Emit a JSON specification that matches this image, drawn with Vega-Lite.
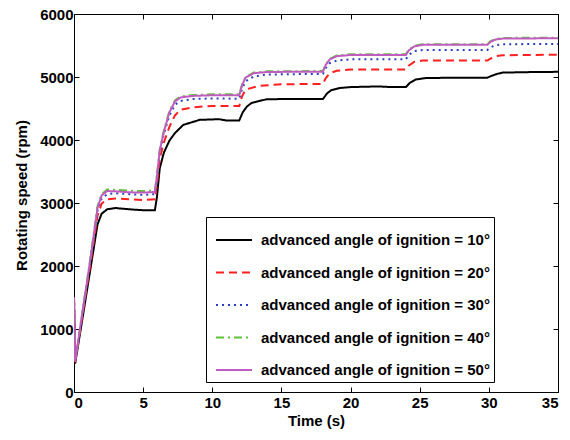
{
  "$schema": "https://vega.github.io/schema/vega-lite/v6.json",
  "width": 484,
  "height": 378,
  "autosize": {"type": "none"},
  "padding": {"left": 74, "top": 14, "right": 12, "bottom": 48},
  "background": "white",
  "config": {
    "font": "Liberation Sans",
    "view": {"stroke": "black", "strokeWidth": 1},
    "axis": {
      "grid": false,
      "domainColor": "black",
      "domainWidth": 1,
      "tickColor": "black",
      "tickSize": -5,
      "labelFont": "Liberation Sans",
      "labelFontWeight": "bold",
      "labelFontSize": 15,
      "labelColor": "black",
      "titleFont": "Liberation Sans",
      "titleFontWeight": "bold",
      "titleFontSize": 15,
      "titleColor": "black"
    }
  },
  "data": {"values": [
    {"series":"10","time":0,"speed":1500},{"series":"10","time":0.08,"speed":450},{"series":"10","time":0.6,"speed":1150},{"series":"10","time":1.2,"speed":1970},{"series":"10","time":1.7,"speed":2660},{"series":"10","time":2.0,"speed":2830},{"series":"10","time":2.4,"speed":2900},{"series":"10","time":3.0,"speed":2920},{"series":"10","time":4.0,"speed":2900},{"series":"10","time":5.0,"speed":2885},{"series":"10","time":5.85,"speed":2885},{"series":"10","time":6.0,"speed":3100},{"series":"10","time":6.2,"speed":3550},{"series":"10","time":6.5,"speed":3800},{"series":"10","time":6.9,"speed":3990},{"series":"10","time":7.3,"speed":4110},{"series":"10","time":7.9,"speed":4240},{"series":"10","time":9.1,"speed":4320},{"series":"10","time":10.5,"speed":4330},{"series":"10","time":11.0,"speed":4310},{"series":"10","time":11.95,"speed":4310},{"series":"10","time":12.2,"speed":4440},{"series":"10","time":12.5,"speed":4530},{"series":"10","time":12.85,"speed":4590},{"series":"10","time":13.9,"speed":4645},{"series":"10","time":15,"speed":4650},{"series":"10","time":18.0,"speed":4650},{"series":"10","time":18.3,"speed":4740},{"series":"10","time":18.6,"speed":4790},{"series":"10","time":19.2,"speed":4825},{"series":"10","time":20,"speed":4840},{"series":"10","time":22,"speed":4850},{"series":"10","time":23,"speed":4840},{"series":"10","time":24.0,"speed":4840},{"series":"10","time":24.3,"speed":4910},{"series":"10","time":24.7,"speed":4960},{"series":"10","time":25.5,"speed":4985},{"series":"10","time":29.9,"speed":4990},{"series":"10","time":30.1,"speed":5010},{"series":"10","time":30.6,"speed":5050},{"series":"10","time":31,"speed":5070},{"series":"10","time":33,"speed":5078},{"series":"10","time":35,"speed":5082},
    {"series":"20","time":0,"speed":1500},{"series":"20","time":0.08,"speed":470},{"series":"20","time":0.6,"speed":1200},{"series":"20","time":1.2,"speed":2050},{"series":"20","time":1.7,"speed":2800},{"series":"20","time":2.0,"speed":2990},{"series":"20","time":2.4,"speed":3060},{"series":"20","time":3.0,"speed":3070},{"series":"20","time":4.0,"speed":3060},{"series":"20","time":5.0,"speed":3045},{"series":"20","time":5.85,"speed":3060},{"series":"20","time":6.0,"speed":3300},{"series":"20","time":6.2,"speed":3700},{"series":"20","time":6.5,"speed":3960},{"series":"20","time":6.9,"speed":4210},{"series":"20","time":7.3,"speed":4390},{"series":"20","time":7.7,"speed":4480},{"series":"20","time":8.6,"speed":4520},{"series":"20","time":10,"speed":4540},{"series":"20","time":11.95,"speed":4540},{"series":"20","time":12.15,"speed":4690},{"series":"20","time":12.4,"speed":4800},{"series":"20","time":13.4,"speed":4860},{"series":"20","time":15,"speed":4885},{"series":"20","time":18.0,"speed":4890},{"series":"20","time":18.2,"speed":4980},{"series":"20","time":18.5,"speed":5060},{"series":"20","time":19.0,"speed":5100},{"series":"20","time":20,"speed":5120},{"series":"20","time":24.0,"speed":5120},{"series":"20","time":24.2,"speed":5180},{"series":"20","time":24.6,"speed":5240},{"series":"20","time":25.2,"speed":5260},{"series":"20","time":29.9,"speed":5260},{"series":"20","time":30.1,"speed":5290},{"series":"20","time":30.5,"speed":5330},{"series":"20","time":31,"speed":5345},{"series":"20","time":35,"speed":5355},
    {"series":"30","time":0,"speed":1500},{"series":"30","time":0.08,"speed":480},{"series":"30","time":0.6,"speed":1230},{"series":"30","time":1.2,"speed":2100},{"series":"30","time":1.7,"speed":2880},{"series":"30","time":2.0,"speed":3070},{"series":"30","time":2.4,"speed":3140},{"series":"30","time":3.0,"speed":3155},{"series":"30","time":4.0,"speed":3140},{"series":"30","time":5.0,"speed":3130},{"series":"30","time":5.85,"speed":3140},{"series":"30","time":6.0,"speed":3400},{"series":"30","time":6.2,"speed":3800},{"series":"30","time":6.5,"speed":4100},{"series":"30","time":6.9,"speed":4390},{"series":"30","time":7.3,"speed":4560},{"series":"30","time":7.7,"speed":4620},{"series":"30","time":8.6,"speed":4650},{"series":"30","time":10,"speed":4660},{"series":"30","time":11.95,"speed":4655},{"series":"30","time":12.15,"speed":4810},{"series":"30","time":12.4,"speed":4930},{"series":"30","time":13,"speed":5010},{"series":"30","time":14,"speed":5040},{"series":"30","time":18.0,"speed":5050},{"series":"30","time":18.2,"speed":5140},{"series":"30","time":18.5,"speed":5220},{"series":"30","time":19.0,"speed":5260},{"series":"30","time":20,"speed":5280},{"series":"30","time":24.0,"speed":5280},{"series":"30","time":24.2,"speed":5350},{"series":"30","time":24.6,"speed":5410},{"series":"30","time":25.2,"speed":5430},{"series":"30","time":29.9,"speed":5430},{"series":"30","time":30.1,"speed":5470},{"series":"30","time":30.5,"speed":5505},{"series":"30","time":31,"speed":5520},{"series":"30","time":35,"speed":5525},
    {"series":"40","time":0,"speed":1500},{"series":"40","time":0.08,"speed":490},{"series":"40","time":0.6,"speed":1260},{"series":"40","time":1.2,"speed":2150},{"series":"40","time":1.7,"speed":2950},{"series":"40","time":2.0,"speed":3140},{"series":"40","time":2.4,"speed":3215},{"series":"40","time":3.0,"speed":3210},{"series":"40","time":4.0,"speed":3195},{"series":"40","time":5.0,"speed":3190},{"series":"40","time":5.85,"speed":3200},{"series":"40","time":6.0,"speed":3450},{"series":"40","time":6.2,"speed":3850},{"series":"40","time":6.5,"speed":4150},{"series":"40","time":6.9,"speed":4460},{"series":"40","time":7.3,"speed":4630},{"series":"40","time":7.7,"speed":4690},{"series":"40","time":8.6,"speed":4715},{"series":"40","time":10,"speed":4725},{"series":"40","time":11.95,"speed":4725},{"series":"40","time":12.15,"speed":4880},{"series":"40","time":12.4,"speed":5000},{"series":"40","time":13,"speed":5070},{"series":"40","time":14,"speed":5090},{"series":"40","time":18.0,"speed":5095},{"series":"40","time":18.2,"speed":5200},{"series":"40","time":18.5,"speed":5290},{"series":"40","time":19.0,"speed":5340},{"series":"40","time":20,"speed":5360},{"series":"40","time":24.0,"speed":5360},{"series":"40","time":24.2,"speed":5430},{"series":"40","time":24.6,"speed":5495},{"series":"40","time":25.2,"speed":5520},{"series":"40","time":29.9,"speed":5520},{"series":"40","time":30.1,"speed":5565},{"series":"40","time":30.5,"speed":5605},{"series":"40","time":31,"speed":5620},{"series":"40","time":35,"speed":5625},
    {"series":"50","time":0,"speed":1500},{"series":"50","time":0.08,"speed":480},{"series":"50","time":0.6,"speed":1250},{"series":"50","time":1.2,"speed":2130},{"series":"50","time":1.7,"speed":2920},{"series":"50","time":2.0,"speed":3120},{"series":"50","time":2.4,"speed":3190},{"series":"50","time":3.0,"speed":3185},{"series":"50","time":4.0,"speed":3170},{"series":"50","time":5.0,"speed":3165},{"series":"50","time":5.85,"speed":3175},{"series":"50","time":6.0,"speed":3430},{"series":"50","time":6.2,"speed":3830},{"series":"50","time":6.5,"speed":4130},{"series":"50","time":6.9,"speed":4440},{"series":"50","time":7.3,"speed":4610},{"series":"50","time":7.7,"speed":4675},{"series":"50","time":8.6,"speed":4700},{"series":"50","time":10,"speed":4710},{"series":"50","time":11.95,"speed":4710},{"series":"50","time":12.15,"speed":4865},{"series":"50","time":12.4,"speed":4990},{"series":"50","time":13,"speed":5060},{"series":"50","time":14,"speed":5080},{"series":"50","time":18.0,"speed":5085},{"series":"50","time":18.2,"speed":5190},{"series":"50","time":18.5,"speed":5280},{"series":"50","time":19.0,"speed":5330},{"series":"50","time":20,"speed":5350},{"series":"50","time":24.0,"speed":5350},{"series":"50","time":24.2,"speed":5420},{"series":"50","time":24.6,"speed":5485},{"series":"50","time":25.2,"speed":5510},{"series":"50","time":29.9,"speed":5510},{"series":"50","time":30.1,"speed":5555},{"series":"50","time":30.5,"speed":5595},{"series":"50","time":31,"speed":5610},{"series":"50","time":35,"speed":5615}
  ]},
  "layer": [
    {
      "mark": {"type": "line", "strokeWidth": 2, "clip": true},
      "encoding": {
        "x": {"field": "time", "type": "quantitative", "scale": {"domain": [0, 35], "nice": false},
              "axis": {"title": "Time (s)", "format": "d", "values": [0,5,10,15,20,25,30,35], "labelPadding": 8, "titlePadding": 3}},
        "y": {"field": "speed", "type": "quantitative", "scale": {"domain": [0, 6000], "nice": false},
              "axis": {"title": "Rotating speed (rpm)", "format": "d", "values": [0,1000,2000,3000,4000,5000,6000], "labelPadding": 6, "titlePadding": 10, "titleY": 181}},
        "color": {"field": "series", "type": "nominal",
                  "scale": {"domain": ["10","20","30","40","50"], "range": ["#000000","#ff1f1f","#2b3fbf","#5fc23a","#c05cc0"]},
                  "legend": {"title": null, "orient": "none", "legendX": 132, "legendY": 203,
                             "labelExpr": "'advanced angle of ignition = ' + datum.label + '°\u00a0\u00a0\u00a0'",
                             "labelFont": "Liberation Sans", "labelFontWeight": "bold", "labelFontSize": 15, "labelColor": "black",
                             "labelLimit": 0,
                             "symbolType": "stroke", "symbolSize": 1296, "symbolStrokeWidth": 2, "symbolOffset": 5,
                             "labelOffset": 8, "rowPadding": 5.5, "padding": 4,
                             "strokeColor": "black", "fillColor": "white"}},
        "strokeDash": {"field": "series", "type": "nominal",
                       "scale": {"domain": ["10","20","30","40","50"], "range": [[1,0],[8,5],[2,4],[8,4,2,4],[1,0]]},
                       "legend": null}
      }
    },
    {
      "mark": {"type": "line", "strokeOpacity": 0},
      "encoding": {
        "detail": {"field": "series"},
        "x": {"field": "time", "type": "quantitative",
              "axis": {"orient": "top", "labels": false, "title": null, "values": [0,5,10,15,20,25,30,35]}},
        "y": {"field": "speed", "type": "quantitative",
              "axis": {"orient": "right", "labels": false, "title": null, "values": [0,1000,2000,3000,4000,5000,6000]}}
      }
    }
  ],
  "resolve": {"axis": {"x": "independent", "y": "independent"}}
}
